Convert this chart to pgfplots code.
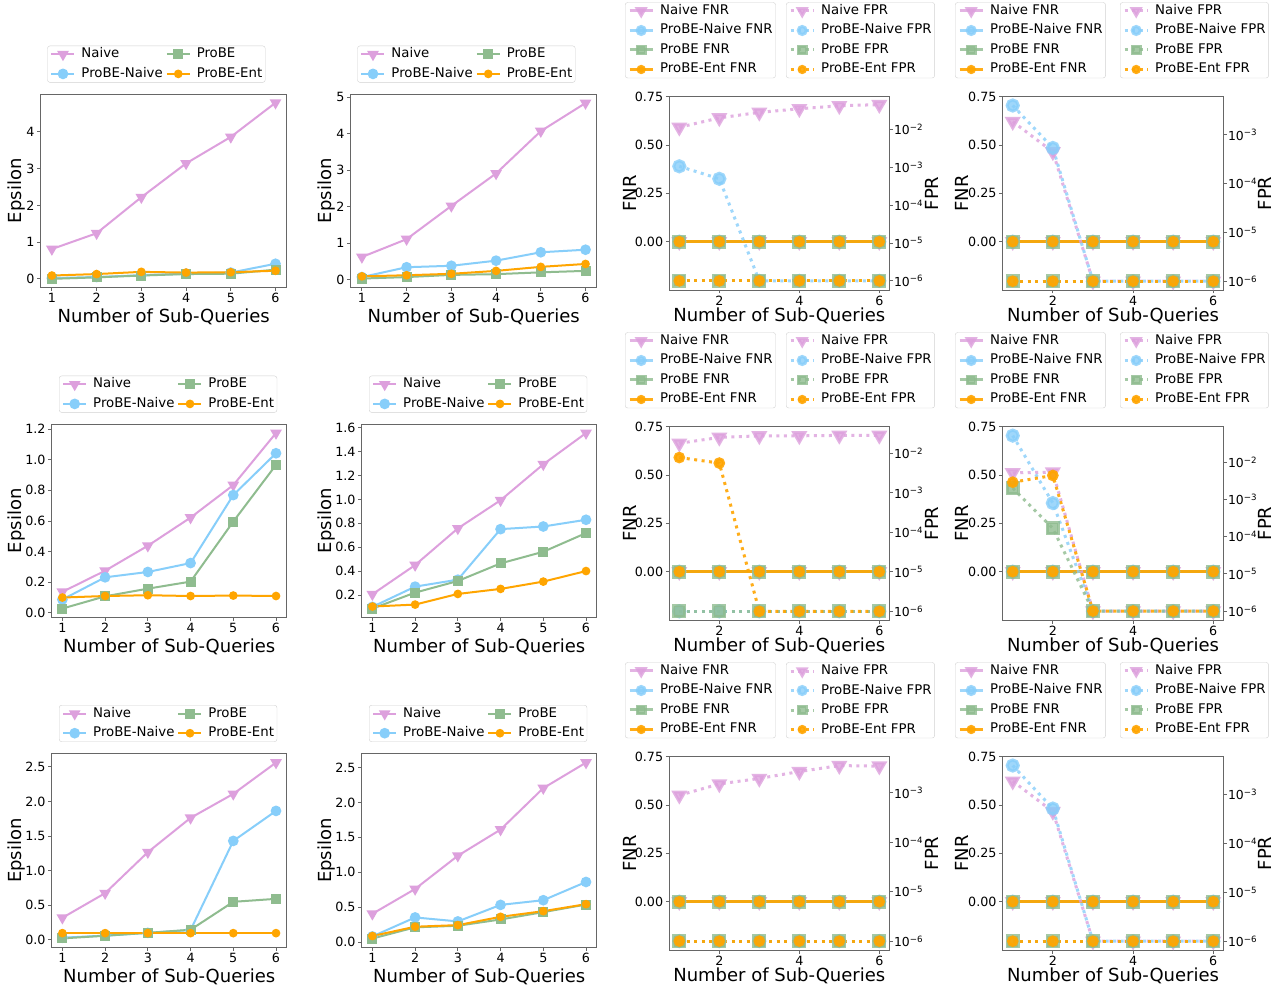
\documentclass[border=0pt]{standalone}
\usepackage{fontspec}
\setmainfont{DejaVu Sans}
\usepackage{pgfplots}
\usepackage{pgfplotstable}
\pgfplotsset{compat=1.18}

\definecolor{cNaive}{RGB}{221,160,221}
\definecolor{cPN}{RGB}{135,206,250}
\definecolor{cPB}{RGB}{143,188,143}
\definecolor{cPE}{RGB}{255,165,0}

% ---------------- Epsilon data ----------------
\pgfplotstableread{
x naive pn pb pe
1 0.81 0.02 0.00 0.09
2 1.24 0.05 0.04 0.13
3 2.22 0.10 0.09 0.19
4 3.14 0.14 0.13 0.17
5 3.86 0.17 0.14 0.18
6 4.79 0.41 0.25 0.22
}\epsA
\pgfplotstableread{
x naive pn pb pe
1 0.62 0.07 0.03 0.09
2 1.11 0.34 0.07 0.12
3 2.02 0.38 0.13 0.16
4 2.91 0.52 0.15 0.24
5 4.07 0.75 0.20 0.35
6 4.84 0.82 0.24 0.43
}\epsB
\pgfplotstableread{
x naive pn pb pe
1 0.137 0.087 0.028 0.100
2 0.275 0.232 0.108 0.110
3 0.438 0.267 0.158 0.115
4 0.622 0.325 0.204 0.110
5 0.834 0.769 0.596 0.113
6 1.174 1.042 0.966 0.110
}\epsC
\pgfplotstableread{
x naive pn pb pe
1 0.208 0.103 0.089 0.106
2 0.452 0.272 0.222 0.122
3 0.758 0.330 0.319 0.211
4 0.993 0.752 0.466 0.253
5 1.293 0.774 0.563 0.314
6 1.554 0.830 0.719 0.402
}\epsD
\pgfplotstableread{
x naive pn pb pe
1 0.318 0.030 0.020 0.096
2 0.674 0.060 0.058 0.096
3 1.267 0.100 0.100 0.096
4 1.763 0.140 0.145 0.096
5 2.110 1.430 0.549 0.096
6 2.563 1.864 0.592 0.096
}\epsE
\pgfplotstableread{
x naive pn pb pe
1 0.404 0.080 0.050 0.086
2 0.760 0.352 0.210 0.219
3 1.236 0.295 0.233 0.242
4 1.611 0.532 0.323 0.361
5 2.205 0.599 0.428 0.442
6 2.571 0.860 0.537 0.542
}\epsF

% ---------------- FNR (all zero) ----------------
\pgfplotstableread{
x naive pn pb pe
1 0 0 0 0
2 0 0 0 0
3 0 0 0 0
4 0 0 0 0
5 0 0 0 0
6 0 0 0 0
}\fnrzero

% ---------------- FPR data ----------------
\pgfplotstableread{
x naive pn pb pe
1 0.0115 1.07e-3 1e-6 1e-6
2 0.0204 5.0e-4 1e-6 1e-6
3 0.0285 1e-6 1e-6 1e-6
4 0.0355 1e-6 1e-6 1e-6
5 0.0427 1e-6 1e-6 1e-6
6 0.0457 1e-6 1e-6 1e-6
}\fprA
\pgfplotstableread{
x naive pn pb pe
1 1.86e-3 3.98e-3 1e-6 1e-6
2 4.47e-4 5.37e-4 1e-6 1e-6
3 1e-6 1e-6 1e-6 1e-6
4 1e-6 1e-6 1e-6 1e-6
5 1e-6 1e-6 1e-6 1e-6
6 1e-6 1e-6 1e-6 1e-6
}\fprB
\pgfplotstableread{
x naive pn pb pe
1 0.0178 1e-6 1e-6 7.76e-3
2 0.0251 1e-6 1e-6 5.62e-3
3 0.0275 1e-6 1e-6 1e-6
4 0.0275 1e-6 1e-6 1e-6
5 0.0282 1e-6 1e-6 1e-6
6 0.0282 1e-6 1e-6 1e-6
}\fprC
\pgfplotstableread{
x naive pn pb pe
1 5.13e-3 0.0513 2.0e-3 2.88e-3
2 5.37e-3 7.94e-4 1.66e-4 4.37e-3
3 1e-6 1e-6 1e-6 1e-6
4 1e-6 1e-6 1e-6 1e-6
5 1e-6 1e-6 1e-6 1e-6
6 1e-6 1e-6 1e-6 1e-6
}\fprD
\pgfplotstableread{
x naive pn pb pe
1 8.91e-4 1e-6 1e-6 1e-6
2 1.51e-3 1e-6 1e-6 1e-6
3 1.95e-3 1e-6 1e-6 1e-6
4 2.69e-3 1e-6 1e-6 1e-6
5 3.55e-3 1e-6 1e-6 1e-6
6 3.47e-3 1e-6 1e-6 1e-6
}\fprE
\pgfplotstableread{
x naive pn pb pe
1 1.86e-3 3.89e-3 1e-6 1e-6
2 4.47e-4 5.13e-4 1e-6 1e-6
3 1e-6 1e-6 1e-6 1e-6
4 1e-6 1e-6 1e-6 1e-6
5 1e-6 1e-6 1e-6 1e-6
6 1e-6 1e-6 1e-6 1e-6
}\fprF

\newcommand{\labfont}{\fontsize{18}{21}\selectfont}
\newcommand{\ex}[1]{10\textsuperscript{−#1}}

\pgfplotsset{
  common/.style={
    scale only axis, xmin=0.75, xmax=6.25,
    /pgf/number format/assume math mode=true,
    axis line style={draw=black!60, line width=0.9pt},
    tick style={draw=black!60, line width=0.9pt},
    tick align=outside, major tick length=3.5pt,
    tick label style={font=\fontsize{12.7}{15}\selectfont, inner sep=2.5pt},
    xtick pos=bottom, ytick pos=left,
    xlabel={Number of Sub-Queries},
    legend cell align=left,
    legend image code/.code={\draw[mark repeat=2,mark phase=2,##1] plot coordinates {(0pt,0pt) (11.5pt,0pt) (23pt,0pt)};},
    legend style={font=\fontsize{13.3}{16}\selectfont, draw=black!18, rounded corners=2.5pt,
      fill=white, inner xsep=3pt, inner ysep=2pt,
      nodes={inner sep=0pt, text height=10pt, text depth=3pt},
      row sep=6.5pt,
      /tikz/every odd column/.append style={column sep=6pt},
      /tikz/every even column/.append style={column sep=3pt}},
  },
  epsstyle/.style={common, xtick={1,2,3,4,5,6}, xticklabels={1,2,3,4,5,6}, ylabel={Epsilon},
    legend columns=2, transpose legend,
    every axis x label/.style={at={(axis description cs:0.5,-0.152)}, anchor=center, font=\labfont}},
  fnrstyle/.style={common, xtick={2,4,6}, xticklabels={2,4,6},
    ymin=-0.25, ymax=0.75, ytick={0,0.25,0.5,0.75}, yticklabels={0.00,0.25,0.50,0.75},
    ylabel={FNR},
    legend image code/.code={\draw[mark repeat=2,mark phase=2,##1,/tikz/every mark/.append style={scale=0.72}] plot coordinates {(0pt,0pt) (11.5pt,0pt) (23pt,0pt)};},
    every axis x label/.style={at={(axis description cs:0.5,-0.132)}, anchor=center, font=\labfont}},
  fprstyle/.style={common, xtick=\empty, ylabel={FPR},
    legend image code/.code={\draw[mark repeat=2,mark phase=2,##1,/tikz/every mark/.append style={scale=0.72}] plot coordinates {(0pt,0pt) (11.5pt,0pt) (23pt,0pt)};},
    axis x line=none, axis y line*=right, ytick pos=right,
    yticklabel style={font=\fontsize{12.4}{14}\selectfont, inner sep=1pt}},
  eN/.style={color=cNaive, line width=2pt, mark=triangle*, mark size=4.8pt, mark options={rotate=180}},
  ePN/.style={color=cPN, line width=2pt, mark=*, mark size=4.3pt},
  ePB/.style={color=cPB, line width=2pt, mark=square*, mark size=4pt},
  ePE/.style={color=cPE, line width=2pt, mark=*, mark size=3.3pt},
  fN/.style={color=cNaive, opacity=0.8, line width=3pt, mark=triangle*, mark size=6.3pt, mark options={rotate=180, solid}},
  fPN/.style={color=cPN, opacity=0.8, line width=3pt, mark=*, mark size=5.6pt, mark options={solid}},
  fPB/.style={color=cPB, opacity=0.8, line width=3pt, mark=square*, mark size=5.5pt, mark options={solid}},
  fPE/.style={color=cPE, opacity=0.9, line width=3pt, mark=*, mark size=4.3pt, mark options={solid}},
  dot/.style={dash pattern=on 3pt off 4.5pt},
}

\newcommand{\epsplots}[1]{%
  \addplot[eN] table[x=x,y=naive]{#1}; \addlegendentry{Naive}
  \addplot[ePN] table[x=x,y=pn]{#1}; \addlegendentry{ProBE-Naive}
  \addplot[ePB] table[x=x,y=pb]{#1}; \addlegendentry{ProBE}
  \addplot[ePE] table[x=x,y=pe]{#1}; \addlegendentry{ProBE-Ent}
}
\newcommand{\fnrplots}{%
  \addplot[fN] table[x=x,y=naive]{\fnrzero}; \addlegendentry{Naive FNR}
  \addplot[fPN] table[x=x,y=pn]{\fnrzero}; \addlegendentry{ProBE-Naive FNR}
  \addplot[fPB] table[x=x,y=pb]{\fnrzero}; \addlegendentry{ProBE FNR}
  \addplot[fPE] table[x=x,y=pe]{\fnrzero}; \addlegendentry{ProBE-Ent FNR}
}
\newcommand{\fprplots}[1]{%
  \addplot[fN,dot] table[x=x,y=naive]{#1}; \addlegendentry{Naive FPR}
  \addplot[fPN,dot] table[x=x,y=pn]{#1}; \addlegendentry{ProBE-Naive FPR}
  \addplot[fPB,dot] table[x=x,y=pb]{#1}; \addlegendentry{ProBE FPR}
  \addplot[fPE,dot] table[x=x,y=pe]{#1}; \addlegendentry{ProBE-Ent FPR}
}

\begin{document}
\begin{tikzpicture}
\path[use as bounding box, fill=white] (0,0) rectangle (1281pt,989pt);

% ================= Row 1 =================
\begin{axis}[epsstyle, at={(40.7pt,701.7pt)}, anchor=south west, width=246pt, height=193pt,
  ymin=-0.23, ymax=5.02, ytick={0,1,2,3,4}, yticklabels={0,1,2,3,4},
  every axis y label/.style={at={(axis description cs:-0.0976,0.5)}, rotate=90, anchor=center, font=\labfont},
  legend style={at={(0.0268,1.2518)}, anchor=north west}]
\epsplots{\epsA}
\end{axis}

\begin{axis}[epsstyle, at={(350.7pt,701.7pt)}, anchor=south west, width=246pt, height=193pt,
  ymin=-0.21, ymax=5.08, ytick={0,1,2,3,4,5}, yticklabels={0,1,2,3,4,5},
  every axis y label/.style={at={(axis description cs:-0.0976,0.5)}, rotate=90, anchor=center, font=\labfont},
  legend style={at={(0.0268,1.2518)}, anchor=north west}]
\epsplots{\epsB}
\end{axis}

\begin{axis}[fnrstyle, at={(669.3pt,699pt)}, anchor=south west, width=220pt, height=193.3pt,
  every axis y label/.style={at={(axis description cs:-0.179,0.5)}, rotate=90, anchor=center, font=\labfont},
  legend style={at={(-0.2014,1.4884)}, anchor=north west}]
\fnrplots
\end{axis}
\begin{axis}[ymode=log, yminorticks=false, fprstyle, at={(669.3pt,699pt)}, anchor=south west, width=220pt, height=193.3pt,
  ymin=5.75e-7, ymax=0.0741, ytick={1e-6,1e-5,1e-4,1e-3,1e-2},
  yticklabels={\ex{6},\ex{5},\ex{4},\ex{3},\ex{2}},
  every axis y label/.style={at={(axis description cs:1.192,0.5)}, rotate=90, anchor=center, font=\labfont},
  legend style={at={(0.5305,1.4884)}, anchor=north west}]
\fprplots{\fprA}
\end{axis}

\begin{axis}[fnrstyle, at={(1002.7pt,699pt)}, anchor=south west, width=220.6pt, height=193.3pt,
  every axis y label/.style={at={(axis description cs:-0.186,0.5)}, rotate=90, anchor=center, font=\labfont},
  legend style={at={(-0.2162,1.4884)}, anchor=north west}]
\fnrplots
\end{axis}
\begin{axis}[ymode=log, yminorticks=false, fprstyle, at={(1002.7pt,699pt)}, anchor=south west, width=220.6pt, height=193.3pt,
  ymin=6.61e-7, ymax=6.03e-3, ytick={1e-6,1e-5,1e-4,1e-3},
  yticklabels={\ex{6},\ex{5},\ex{4},\ex{3}},
  every axis y label/.style={at={(axis description cs:1.189,0.5)}, rotate=90, anchor=center, font=\labfont},
  legend style={at={(0.5317,1.4884)}, anchor=north west}]
\fprplots{\fprB}
\end{axis}

% ================= Row 2 =================
\begin{axis}[epsstyle, at={(51.7pt,371.7pt)}, anchor=south west, width=235pt, height=193pt,
  ymin=-0.029, ymax=1.231, ytick={0,0.2,0.4,0.6,0.8,1.0,1.2}, yticklabels={0.0,0.2,0.4,0.6,0.8,1.0,1.2},
  every axis y label/.style={at={(axis description cs:-0.149,0.5)}, rotate=90, anchor=center, font=\labfont},
  legend style={at={(0.0311,1.2518)}, anchor=north west}]
\epsplots{\epsC}
\end{axis}

\begin{axis}[epsstyle, at={(361.7pt,371.7pt)}, anchor=south west, width=235pt, height=193pt,
  ymin=0.016, ymax=1.627, ytick={0.2,0.4,0.6,0.8,1.0,1.2,1.4,1.6}, yticklabels={0.2,0.4,0.6,0.8,1.0,1.2,1.4,1.6},
  every axis y label/.style={at={(axis description cs:-0.149,0.5)}, rotate=90, anchor=center, font=\labfont},
  legend style={at={(0.0311,1.2518)}, anchor=north west}]
\epsplots{\epsD}
\end{axis}

\begin{axis}[fnrstyle, at={(669.3pt,369pt)}, anchor=south west, width=220pt, height=193.3pt,
  every axis y label/.style={at={(axis description cs:-0.179,0.5)}, rotate=90, anchor=center, font=\labfont},
  legend style={at={(-0.2014,1.4884)}, anchor=north west}]
\fnrplots
\end{axis}
\begin{axis}[ymode=log, yminorticks=false, fprstyle, at={(669.3pt,369pt)}, anchor=south west, width=220pt, height=193.3pt,
  ymin=6.03e-7, ymax=0.0468, ytick={1e-6,1e-5,1e-4,1e-3,1e-2},
  yticklabels={\ex{6},\ex{5},\ex{4},\ex{3},\ex{2}},
  every axis y label/.style={at={(axis description cs:1.192,0.5)}, rotate=90, anchor=center, font=\labfont},
  legend style={at={(0.5305,1.4884)}, anchor=north west}]
\fprplots{\fprC}
\end{axis}

\begin{axis}[fnrstyle, at={(1002.7pt,369pt)}, anchor=south west, width=220.6pt, height=193.3pt,
  every axis y label/.style={at={(axis description cs:-0.186,0.5)}, rotate=90, anchor=center, font=\labfont},
  legend style={at={(-0.2162,1.4884)}, anchor=north west}]
\fnrplots
\end{axis}
\begin{axis}[ymode=log, yminorticks=false, fprstyle, at={(1002.7pt,369pt)}, anchor=south west, width=220.6pt, height=193.3pt,
  ymin=5.75e-7, ymax=0.0891, ytick={1e-6,1e-5,1e-4,1e-3,1e-2},
  yticklabels={\ex{6},\ex{5},\ex{4},\ex{3},\ex{2}},
  every axis y label/.style={at={(axis description cs:1.189,0.5)}, rotate=90, anchor=center, font=\labfont},
  legend style={at={(0.5317,1.4884)}, anchor=north west}]
\fprplots{\fprD}
\end{axis}

% ================= Row 3 =================
\begin{axis}[epsstyle, at={(51.7pt,41.7pt)}, anchor=south west, width=235pt, height=193.5pt,
  ymin=-0.109, ymax=2.69, ytick={0,0.5,1.0,1.5,2.0,2.5}, yticklabels={0.0,0.5,1.0,1.5,2.0,2.5},
  every axis y label/.style={at={(axis description cs:-0.149,0.5)}, rotate=90, anchor=center, font=\labfont},
  legend style={at={(0.0311,1.2522)}, anchor=north west}]
\epsplots{\epsE}
\end{axis}

\begin{axis}[epsstyle, at={(361.7pt,41.7pt)}, anchor=south west, width=235pt, height=193.5pt,
  ymin=-0.076, ymax=2.697, ytick={0,0.5,1.0,1.5,2.0,2.5}, yticklabels={0.0,0.5,1.0,1.5,2.0,2.5},
  every axis y label/.style={at={(axis description cs:-0.149,0.5)}, rotate=90, anchor=center, font=\labfont},
  legend style={at={(0.0311,1.2522)}, anchor=north west}]
\epsplots{\epsF}
\end{axis}

\begin{axis}[fnrstyle, at={(669.3pt,39pt)}, anchor=south west, width=220pt, height=193.3pt,
  every axis y label/.style={at={(axis description cs:-0.179,0.5)}, rotate=90, anchor=center, font=\labfont},
  legend style={at={(-0.2014,1.4884)}, anchor=north west}]
\fnrplots
\end{axis}
\begin{axis}[ymode=log, yminorticks=false, fprstyle, at={(669.3pt,39pt)}, anchor=south west, width=220pt, height=193.3pt,
  ymin=6.61e-7, ymax=5.37e-3, ytick={1e-6,1e-5,1e-4,1e-3},
  yticklabels={\ex{6},\ex{5},\ex{4},\ex{3}},
  every axis y label/.style={at={(axis description cs:1.192,0.5)}, rotate=90, anchor=center, font=\labfont},
  legend style={at={(0.5305,1.4884)}, anchor=north west}]
\fprplots{\fprE}
\end{axis}

\begin{axis}[fnrstyle, at={(1002.7pt,39pt)}, anchor=south west, width=220.6pt, height=193.3pt,
  every axis y label/.style={at={(axis description cs:-0.186,0.5)}, rotate=90, anchor=center, font=\labfont},
  legend style={at={(-0.2162,1.4884)}, anchor=north west}]
\fnrplots
\end{axis}
\begin{axis}[ymode=log, yminorticks=false, fprstyle, at={(1002.7pt,39pt)}, anchor=south west, width=220.6pt, height=193.3pt,
  ymin=6.61e-7, ymax=5.89e-3, ytick={1e-6,1e-5,1e-4,1e-3},
  yticklabels={\ex{6},\ex{5},\ex{4},\ex{3}},
  every axis y label/.style={at={(axis description cs:1.189,0.5)}, rotate=90, anchor=center, font=\labfont},
  legend style={at={(0.5317,1.4884)}, anchor=north west}]
\fprplots{\fprF}
\end{axis}

\end{tikzpicture}
\end{document}
